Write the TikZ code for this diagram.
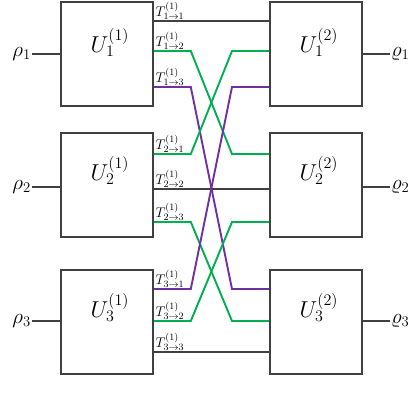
\RequirePackage{fix-cm}
\documentclass[tikz,border=0pt]{standalone}
\usetikzlibrary{calc}
\definecolor{wgreen}{HTML}{00B050}
\definecolor{wpurple}{HTML}{7030A0}
\definecolor{wgray}{HTML}{404040}
\begin{document}
\begin{tikzpicture}[x=1pt,y=-1pt,
  ubox/.style={draw=wgray,line width=1.8pt,fill=white,minimum width=92pt,minimum height=104pt,inner sep=0pt,anchor=north west},
  ulab/.style={font=\fontsize{23}{26}\selectfont,anchor=base,inner sep=0pt},
  tlab/.style={font=\fontsize{14}{16}\selectfont,anchor=south west,inner sep=1pt},
  iolab/.style={font=\fontsize{21}{24}\selectfont,inner sep=1pt},
  wire/.style={line width=1.9pt,draw=wgray},
  gwire/.style={line width=1.9pt,draw=wgreen},
  pwire/.style={line width=1.9pt,draw=wpurple}]
\useasboundingbox (0,0) rectangle (416,407);
% boxes
\node[ubox] (L1) at (60,1) {};
\node[ubox] (L2) at (60,132) {};
\node[ubox] (L3) at (60,269) {};
\node[ubox] (R1) at (269,1) {};
\node[ubox] (R2) at (269,132) {};
\node[ubox] (R3) at (269,269) {};
% box labels
\node[ulab] (uL1) at ($(L1.north)+(3,51)$) {$U_1^{(1)}$};
\node[ulab] (uL2) at ($(L2.north)+(3,48)$) {$U_2^{(1)}$};
\node[ulab] (uL3) at ($(L3.north)+(3,48)$) {$U_3^{(1)}$};
\node[ulab] (uR1) at ($(R1.north)+(3,51)$) {$U_1^{(2)}$};
\node[ulab] (uR2) at ($(R2.north)+(3,48)$) {$U_2^{(2)}$};
\node[ulab] (uR3) at ($(R3.north)+(3,48)$) {$U_3^{(2)}$};
% ports
\coordinate (a11) at ($(L1.north east)+(0,20)$);
\coordinate (a12) at ($(L1.north east)+(0,50)$);
\coordinate (a13) at ($(L1.north east)+(0,86)$);
\coordinate (a21) at ($(L2.north east)+(0,22)$);
\coordinate (a22) at ($(L2.north east)+(0,57)$);
\coordinate (a23) at ($(L2.north east)+(0,90)$);
\coordinate (a31) at ($(L3.north east)+(0,20)$);
\coordinate (a32) at ($(L3.north east)+(0,52)$);
\coordinate (a33) at ($(L3.north east)+(0,83)$);
\coordinate (b11) at ($(R1.north west)+(0,20)$);
\coordinate (b12) at ($(R1.north west)+(0,50)$);
\coordinate (b13) at ($(R1.north west)+(0,86)$);
\coordinate (b21) at ($(R2.north west)+(0,22)$);
\coordinate (b22) at ($(R2.north west)+(0,57)$);
\coordinate (b23) at ($(R2.north west)+(0,90)$);
\coordinate (b31) at ($(R3.north west)+(0,20)$);
\coordinate (b32) at ($(R3.north west)+(0,52)$);
\coordinate (b33) at ($(R3.north west)+(0,83)$);
% wires
\draw[wire] (a11) -- (b11);
\draw[wire] (a22) -- (b22);
\draw[wire] (a33) -- (b33);
\draw[gwire] (a12) -- ++(37,0) -- ($(b21)+(-37,0)$) -- (b21);
\draw[pwire] (a13) -- ++(37,0) -- ($(b31)+(-37,0)$) -- (b31);
\draw[gwire] (a21) -- ++(37,0) -- ($(b12)+(-37,0)$) -- (b12);
\draw[gwire] (a23) -- ++(37,0) -- ($(b32)+(-37,0)$) -- (b32);
\draw[pwire] (a31) -- ++(37,0) -- ($(b13)+(-37,0)$) -- (b13);
\draw[gwire] (a32) -- ++(37,0) -- ($(b23)+(-37,0)$) -- (b23);
% wire labels
\node[tlab] (t11) at ($(a11)+(0.5,0)$) {$T^{(1)}_{1\to1}$};
\node[tlab] (t12) at ($(a12)+(0.5,0)$) {$T^{(1)}_{1\to2}$};
\node[tlab] (t13) at ($(a13)+(0.5,0)$) {$T^{(1)}_{1\to3}$};
\node[tlab] (t21) at ($(a21)+(0.5,0)$) {$T^{(1)}_{2\to1}$};
\node[tlab] (t22) at ($(a22)+(0.5,0)$) {$T^{(1)}_{2\to2}$};
\node[tlab] (t23) at ($(a23)+(0.5,0)$) {$T^{(1)}_{2\to3}$};
\node[tlab] (t31) at ($(a31)+(0.5,0)$) {$T^{(1)}_{3\to1}$};
\node[tlab] (t32) at ($(a32)+(0.5,0)$) {$T^{(1)}_{3\to2}$};
\node[tlab] (t33) at ($(a33)+(0.5,0)$) {$T^{(1)}_{3\to3}$};
% inputs and outputs
\node[iolab,anchor=east] (r1) at ($(L1.west)+(-28,0)$) {$\rho_1$};
\node[iolab,anchor=east] (r2) at ($(L2.west)+(-28,2)$) {$\rho_2$};
\node[iolab,anchor=east] (r3) at ($(L3.west)+(-28,-1)$) {$\rho_3$};
\node[iolab,anchor=west] (o1) at ($(R1.east)+(27,0)$) {$\varrho_1$};
\node[iolab,anchor=west] (o2) at ($(R2.east)+(27,2)$) {$\varrho_2$};
\node[iolab,anchor=west] (o3) at ($(R3.east)+(27,-1)$) {$\varrho_3$};
\draw[wire] (r1.east) -- (L1.west |- r1.east);
\draw[wire] (r2.east) -- (L2.west |- r2.east);
\draw[wire] (r3.east) -- (L3.west |- r3.east);
\draw[wire] (R1.east |- o1.west) -- (o1.west);
\draw[wire] (R2.east |- o2.west) -- (o2.west);
\draw[wire] (R3.east |- o3.west) -- (o3.west);
\end{tikzpicture}
\end{document}
